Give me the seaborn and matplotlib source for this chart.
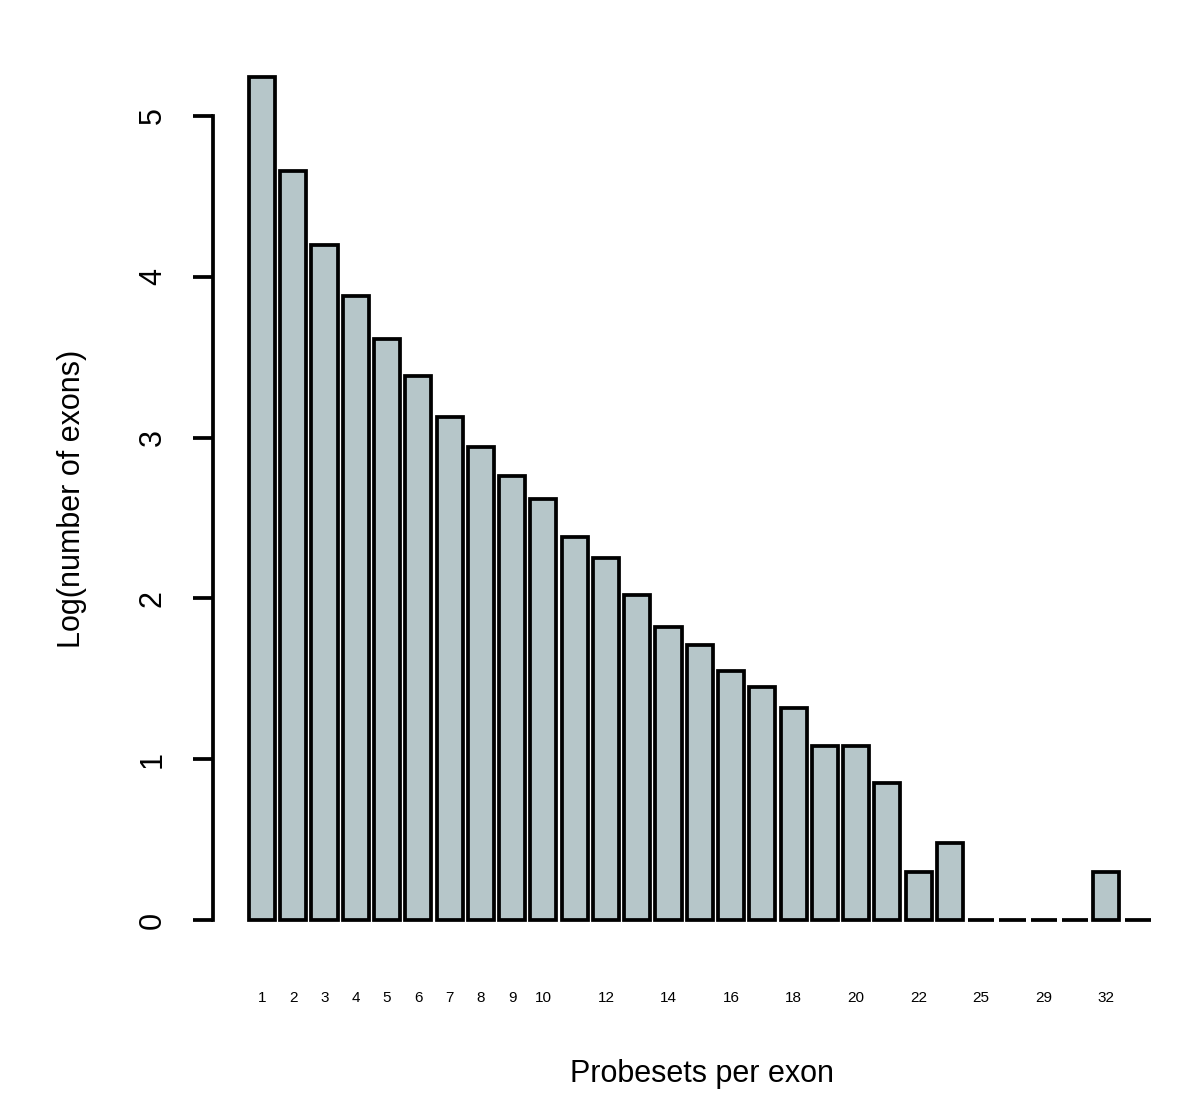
import numpy as np
import pandas as pd
import matplotlib
matplotlib.use("Agg")
import matplotlib.pyplot as plt
import seaborn as sb

# probesets per exon (categories) and log10 of the exon counts
probesets = ["1", "2", "3", "4", "5", "6", "7", "8", "9", "10", "11", "12", "13", "14",
             "15", "16", "17", "18", "19", "20", "21", "22", "23", "25", "27", "29",
             "30", "32", "35"]
log_exons = [5.24, 4.66, 4.20, 3.88, 3.61, 3.38, 3.13, 2.94, 2.76, 2.62, 2.38, 2.25, 2.02, 1.82,
             1.71, 1.55, 1.45, 1.32, 1.08, 1.08, 0.85, 0.30, 0.48, 0.0, 0.0, 0.0,
             0.0, 0.30, 0.0]
# labels R managed to print under the bars
shown_labels = ["1", "2", "3", "4", "5", "6", "7", "8", "9", "10", "12", "14", "16", "18",
                "20", "22", "25", "29", "32"]

df = pd.DataFrame({"probesets": probesets, "log_exons": log_exons})

sb.set_style("white")
plt.rcParams["font.family"] = ["Liberation Sans", "DejaVu Sans"]
plt.rcParams["text.color"] = "black"
plt.rcParams["axes.labelcolor"] = "black"
plt.rcParams["xtick.color"] = "black"
plt.rcParams["ytick.color"] = "black"

fig = plt.figure(figsize=(12, 11.15), dpi=100)
ax = fig.add_axes([213 / 1200, 1 - 953.7 / 1115, (1192 - 213) / 1200, (953.7 - 43.6) / 1115])

sb.barplot(data=df, x="probesets", y="log_exons", order=probesets, color="#b6c6c9",
           saturation=1, edgecolor="black", linewidth=2.7, width=0.833, ax=ax)

ax.set_xlim(-1.565, 29.74)
ax.set_ylim(-0.2096, 5.4496)

for s in ["top", "right", "bottom"]:
    ax.spines[s].set_visible(False)
ax.spines["left"].set_linewidth(2.7)
ax.spines["left"].set_color("black")
ax.spines["left"].set_bounds(0, 5)

ax.set_yticks([0, 1, 2, 3, 4, 5])
ax.set_yticklabels(["0", "1", "2", "3", "4", "5"], rotation=90, va="center")
ax.tick_params(axis="y", length=14.4, width=2.7, pad=18, labelsize=22, left=True)

ax.set_xticks(range(len(probesets)))
ax.set_xticklabels([p if p in shown_labels else "" for p in probesets])
ax.tick_params(axis="x", length=0, pad=27, labelsize=11)

ax.set_ylabel("Log(number of exons)", fontsize=22, labelpad=37)
ax.set_xlabel("Probesets per exon", fontsize=22, labelpad=39)
ax.grid(False)

fig.savefig("out.png", dpi=100)
